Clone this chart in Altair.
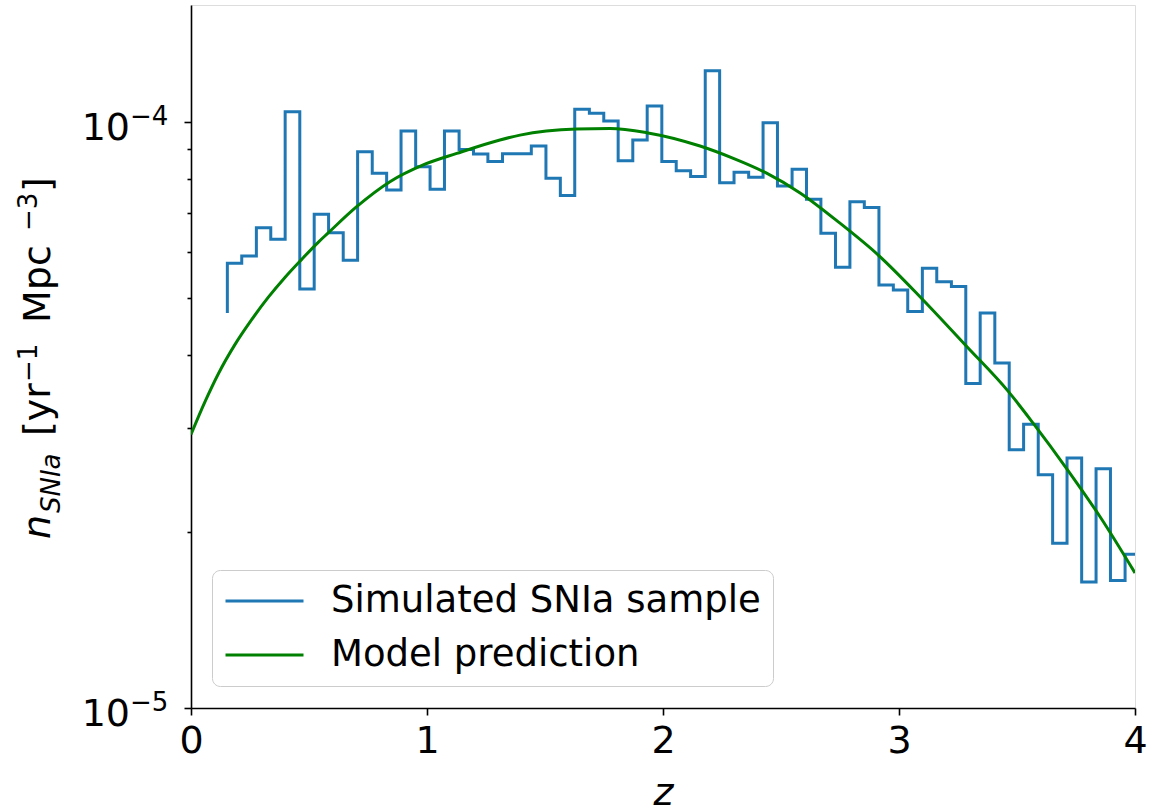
import altair as alt
import pandas as pd

# ---- data ----
# step positions (z) of the simulated histogram (drawn as step-before)
edges = [0.154, 0.215, 0.277, 0.338, 0.399, 0.461, 0.522, 0.583, 0.645, 0.706,
         0.768, 0.829, 0.890, 0.952, 1.013, 1.074, 1.136, 1.197, 1.258, 1.320,
         1.381, 1.442, 1.504, 1.565, 1.626, 1.688, 1.749, 1.810, 1.872, 1.933,
         1.995, 2.056, 2.117, 2.179, 2.240, 2.301, 2.363, 2.424, 2.485, 2.547,
         2.608, 2.669, 2.731, 2.792, 2.853, 2.915, 2.976, 3.037, 3.099, 3.160,
         3.222, 3.283, 3.344, 3.406, 3.467, 3.528, 3.590, 3.651, 3.712, 3.774,
         3.835, 3.896, 3.958, 4.019]
sample = [4.72e-5, 5.74e-5, 5.91e-5, 6.60e-5, 6.31e-5, 10.41e-5, 5.19e-5, 6.96e-5, 6.47e-5, 5.81e-5,
          8.90e-5, 8.18e-5, 7.66e-5, 9.65e-5, 8.39e-5, 7.68e-5, 9.65e-5, 8.98e-5, 8.82e-5, 8.56e-5,
          8.83e-5, 8.83e-5, 9.10e-5, 8.02e-5, 7.49e-5, 10.52e-5, 10.35e-5, 10.04e-5, 8.59e-5, 9.32e-5,
          10.65e-5, 8.56e-5, 8.26e-5, 8.07e-5, 12.23e-5, 7.88e-5, 8.21e-5, 8.05e-5, 9.97e-5, 7.78e-5,
          8.31e-5, 7.38e-5, 6.46e-5, 5.65e-5, 7.31e-5, 7.15e-5, 5.27e-5, 5.17e-5, 4.75e-5, 5.63e-5,
          5.34e-5, 5.24e-5, 3.58e-5, 4.72e-5, 3.88e-5, 2.76e-5, 3.05e-5, 2.50e-5, 1.91e-5, 2.67e-5,
          1.64e-5, 2.56e-5, 1.65e-5, 1.83e-5]

model_z = [0.0, 0.059, 0.116, 0.186, 0.257, 0.327, 0.398, 0.469, 0.540, 0.578, 0.702,
           0.843, 0.984, 1.126, 1.309, 1.394, 1.634, 1.775, 1.931, 2.157, 2.298,
           2.439, 2.581, 2.750, 2.912, 3.096, 3.287, 3.463, 3.569, 3.711, 3.852, 4.0]
model_n = [2.93e-5, 3.33e-5, 3.72e-5, 4.17e-5, 4.60e-5, 5.02e-5, 5.43e-5, 5.83e-5, 6.24e-5, 6.45e-5, 7.17e-5,
           7.91e-5, 8.45e-5, 8.84e-5, 9.32e-5, 9.50e-5, 9.73e-5, 9.75e-5, 9.59e-5, 9.10e-5, 8.67e-5,
           8.18e-5, 7.57e-5, 6.72e-5, 5.93e-5, 5.00e-5, 4.14e-5, 3.47e-5, 3.06e-5, 2.56e-5, 2.12e-5, 1.70e-5]

series_names = ["Simulated SNIa sample", "Model prediction"]
series_colors = ["#1f77b4", "#008000"]
x_ticks = [0, 1, 2, 3, 4]
y_ticks = [1e-5, 2e-5, 3e-5, 4e-5, 5e-5, 6e-5, 7e-5, 8e-5, 9e-5, 1e-4]
y_major = [1e-5, 1e-4]
y_major_exp = ["\u22125", "\u22124"]
y_domain = [1e-5, 1.584e-4]

hist_df = pd.DataFrame({"z": edges, "n": sample, "series": series_names[0]})
model_df = pd.DataFrame({"z": model_z, "n": model_n, "series": series_names[1]})
major_df = pd.DataFrame({"n": y_major, "base": ["10", "10"], "exp": y_major_exp})

FONT = "DejaVu Sans"

x_enc = alt.X("z:Q",
              scale=alt.Scale(domain=[0, 4], nice=False, zero=False),
              axis=alt.Axis(values=x_ticks, format="d", title="z", labelFlush=False,
                            titleFontStyle="italic", titleFontSize=38,
                            titleFontWeight="normal", titlePadding=14,
                            labelFontSize=38, labelPadding=7,
                            tickSize=7, tickWidth=1.6, domainWidth=1.6,
                            domainColor="black", tickColor="black",
                            labelColor="black", titleColor="black",
                            grid=False, labelFont=FONT, titleFont=FONT))
y_scale = alt.Scale(type="log", domain=y_domain, nice=False)
y_enc = alt.Y("n:Q", scale=y_scale,
              axis=alt.Axis(values=y_ticks, title=None, labels=False,
                            tickSize={"condition": {"test": "datum.value == 1e-4 || datum.value == 1e-5", "value": 7}, "value": 4},
                            tickWidth=1.6, domainWidth=1.6,
                            domainColor="black", tickColor="black",
                            grid=False))
color_enc = alt.Color("series:N",
                      scale=alt.Scale(domain=series_names, range=series_colors),
                      legend=alt.Legend(title=None, orient="none", legendX=21, legendY=565,
                                        symbolType="stroke", symbolStrokeWidth=3,
                                        symbolSize=6084, clipHeight=38, rowPadding=16,
                                        labelOffset=26, labelFontSize=37, labelFont=FONT,
                                        labelColor="black", padding=12, cornerRadius=8,
                                        strokeColor="#cccccc", fillColor="white",
                                        labelLimit=1000))

hist = alt.Chart(hist_df).mark_line(interpolate="step-before", strokeWidth=3, clip=True).encode(
    x=x_enc, y=y_enc, color=color_enc)
model = alt.Chart(model_df).mark_line(interpolate="monotone", strokeWidth=3, clip=True).encode(
    x=x_enc, y=y_enc, color=color_enc)

# y tick labels 10^-5, 10^-4 as base + superscript
lab_base = alt.Chart(major_df).mark_text(font=FONT, fontSize=38, align="right",
                                         baseline="alphabetic", dy=18, color="black").encode(
    x=alt.value(-61), y=alt.Y("n:Q", scale=y_scale), text="base:N")
lab_exp = alt.Chart(major_df).mark_text(font=FONT, fontSize=26, align="left",
                                        baseline="alphabetic", dy=3, color="black").encode(
    x=alt.value(-61), y=alt.Y("n:Q", scale=y_scale), text="exp:N")

# y axis title  n_SNIa [yr^-1 Mpc^-3]
one = pd.DataFrame({"k": [0]})
def title_piece(txt, x, y, size, italic=False):
    kw = dict(text=txt, font=FONT, fontSize=size, angle=270, align="left",
              baseline="alphabetic", color="black")
    if italic:
        kw["fontStyle"] = "italic"
    return alt.Chart(one).mark_text(**kw).encode(x=alt.value(x), y=alt.value(y))

pieces = [
    title_piece("n", -141, 534, 38, italic=True),
    title_piece("SNIa", -131, 508, 26, italic=True),
    title_piece("[yr", -141, 431, 38),
    title_piece("\u22121", -154, 377, 26),
    title_piece("Mpc", -141, 318, 38),
    title_piece("\u22123", -154, 226, 26),
    title_piece("]", -141, 187, 38),
]

chart = alt.layer(hist, model, lab_base, lab_exp, *pieces).properties(
    width=944, height=703,
    autosize=alt.AutoSizeParams(type="none"),
    padding={"left": 191, "top": 5, "right": 23, "bottom": 104},
    background="white",
).configure_view(stroke="black", strokeWidth=1.6).configure(font=FONT)

chart.save("out.html", embed_options={"renderer": "svg", "actions": False})
